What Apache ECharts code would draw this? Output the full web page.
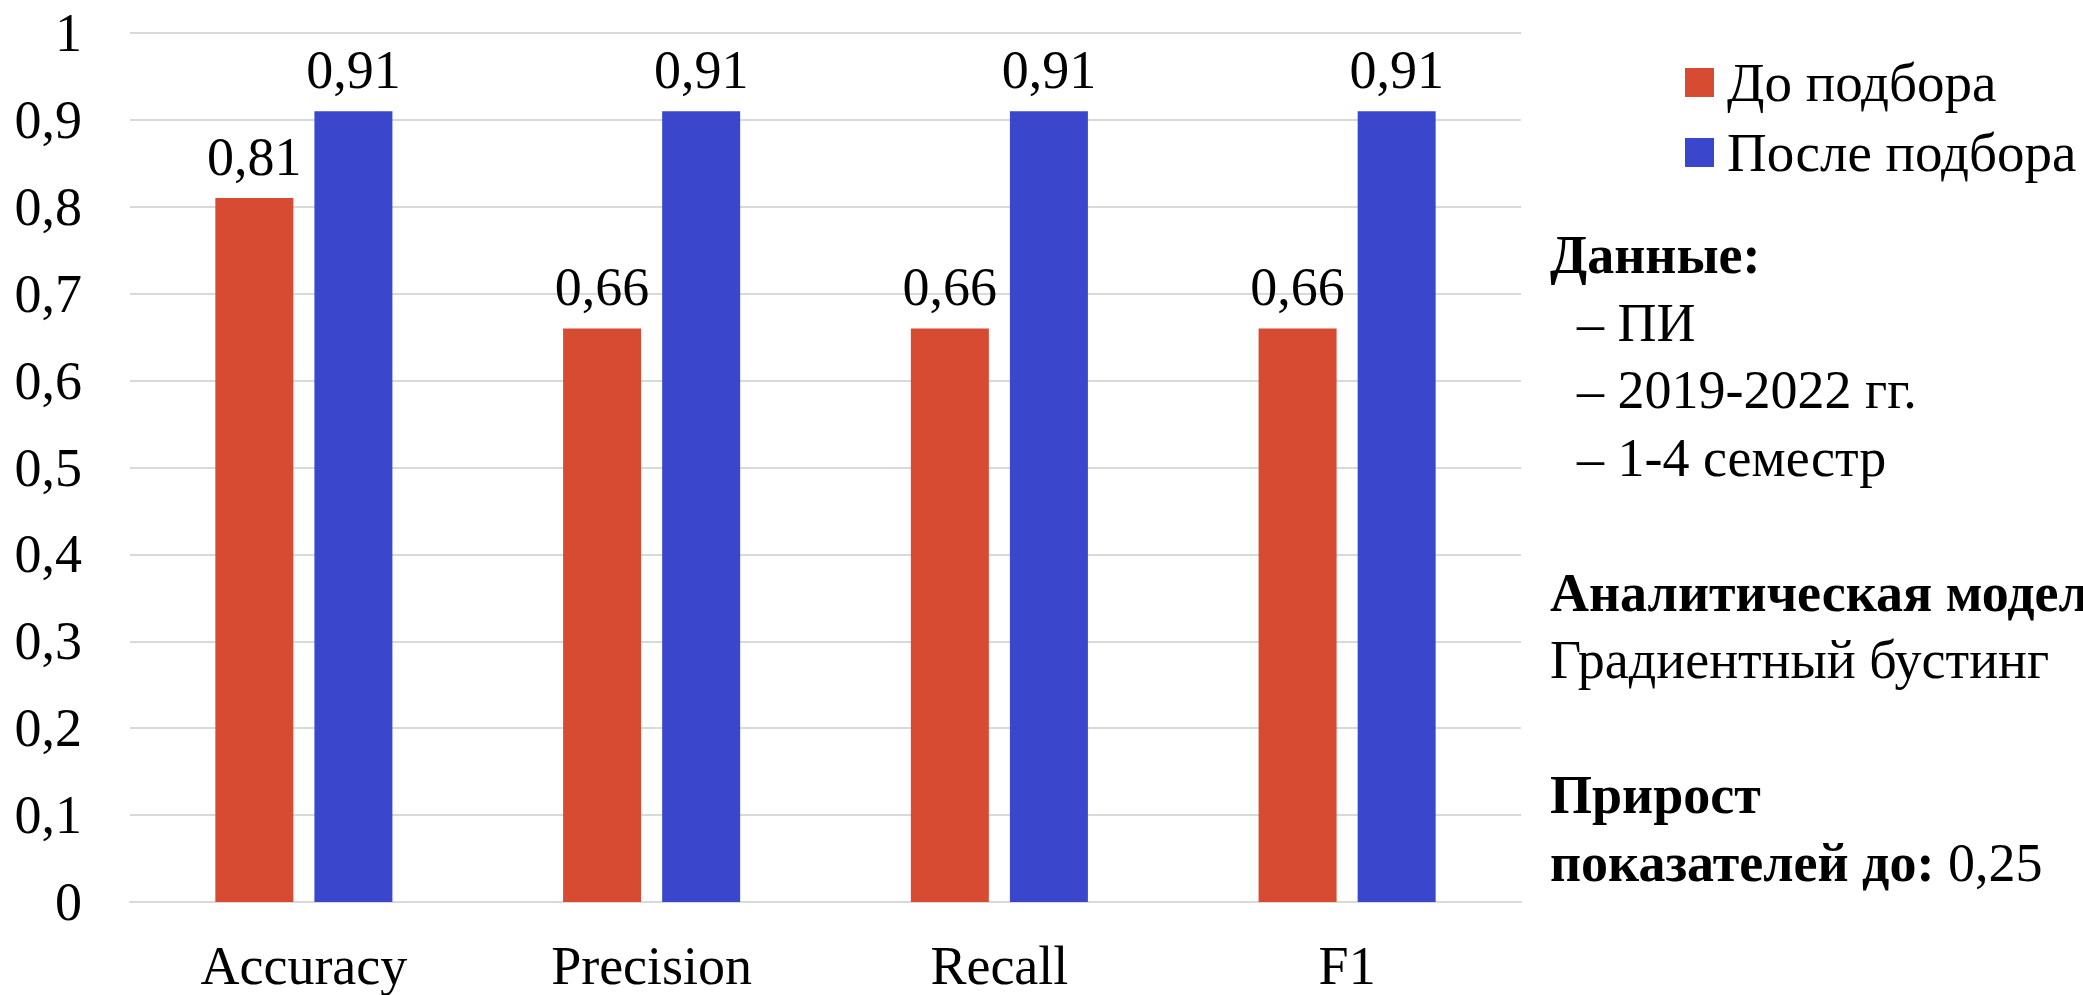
<!DOCTYPE html>
<html>
<head>
<meta charset="utf-8">
<script src="https://cdn.jsdelivr.net/npm/echarts@6/dist/echarts.min.js"></script>
<style>
  html, body { margin: 0; padding: 0; background: #fff; }
  #chart { width: 2083px; height: 995px; }
</style>
</head>
<body>
<div id="chart"></div>
<script>
// Metrics of the gradient-boosting model before and after hyperparameter tuning
const categories = ['Accuracy', 'Precision', 'Recall', 'F1'];
const seriesNames = ['До подбора', 'После подбора'];
const beforeTuning = [0.81, 0.66, 0.66, 0.66];
const afterTuning = [0.91, 0.91, 0.91, 0.91];
const seriesColors = ['#d64b32', '#3a47cd'];

// Side notes
const notes = [
  '{b|Данные:}',
  '{r|  – ПИ}',
  '{r|  – 2019-2022 гг.}',
  '{r|  – 1-4 семестр}',
  '{r| }',
  '{b|Аналитическая модель:}',
  '{r|Градиентный бустинг}',
  '{r| }',
  '{b|Прирост}',
  '{b|показателей до:}{r| 0,25}'
];

const FONT = '"Liberation Serif", "Times New Roman", serif';
const comma = v => String(v).replace('.', ',');

const chart = echarts.init(document.getElementById('chart'), null, { renderer: 'svg' });

chart.setOption({
  backgroundColor: '#ffffff',
  animation: false,
  textStyle: { fontFamily: FONT, color: '#000' },
  grid: { left: 130, right: 562, top: 33, bottom: 93, containLabel: false },
  legend: {
    orient: 'vertical',
    left: 1680,
    top: 50,
    itemWidth: 29,
    itemHeight: 29,
    itemGap: 15,
    icon: 'rect',
    data: seriesNames,
    textStyle: { fontFamily: FONT, fontSize: 55, color: '#000', lineHeight: 54, padding: [0, 0, 0, 8] }
  },
  xAxis: {
    type: 'category',
    data: categories,
    axisLine: { show: true, lineStyle: { color: '#d9d9d9', width: 2 } },
    axisTick: { show: false },
    axisLabel: { fontFamily: FONT, fontSize: 54, color: '#000', margin: 37 }
  },
  yAxis: {
    type: 'value',
    min: 0,
    max: 1,
    interval: 0.1,
    axisLine: { show: false },
    axisTick: { show: false },
    splitLine: { lineStyle: { color: '#d9d9d9', width: 2 } },
    axisLabel: {
      fontFamily: FONT, fontSize: 54, color: '#000', margin: 48,
      formatter: v => comma(Math.round(v * 10) / 10)
    }
  },
  series: [
    {
      name: seriesNames[0],
      type: 'bar',
      data: beforeTuning,
      barWidth: 78,
      barGap: '27%',
      itemStyle: { color: seriesColors[0] },
      label: {
        show: true, position: 'top', distance: 14,
        fontFamily: FONT, fontSize: 54, color: '#000',
        formatter: p => comma(p.value)
      }
    },
    {
      name: seriesNames[1],
      type: 'bar',
      data: afterTuning,
      barWidth: 78,
      barGap: '27%',
      itemStyle: { color: seriesColors[1] },
      label: {
        show: true, position: 'top', distance: 14,
        fontFamily: FONT, fontSize: 54, color: '#000',
        formatter: p => comma(p.value)
      }
    }
  ],
  graphic: [
    {
      type: 'text',
      left: 1550,
      top: 228,
      style: {
        text: notes.join('\n'),
        rich: {
          b: { fontFamily: FONT, fontSize: 54, fontWeight: 'bold', color: '#000', lineHeight: 67.5 },
          r: { fontFamily: FONT, fontSize: 54, color: '#000', lineHeight: 67.5 }
        }
      }
    }
  ]
});
</script>
</body>
</html>
